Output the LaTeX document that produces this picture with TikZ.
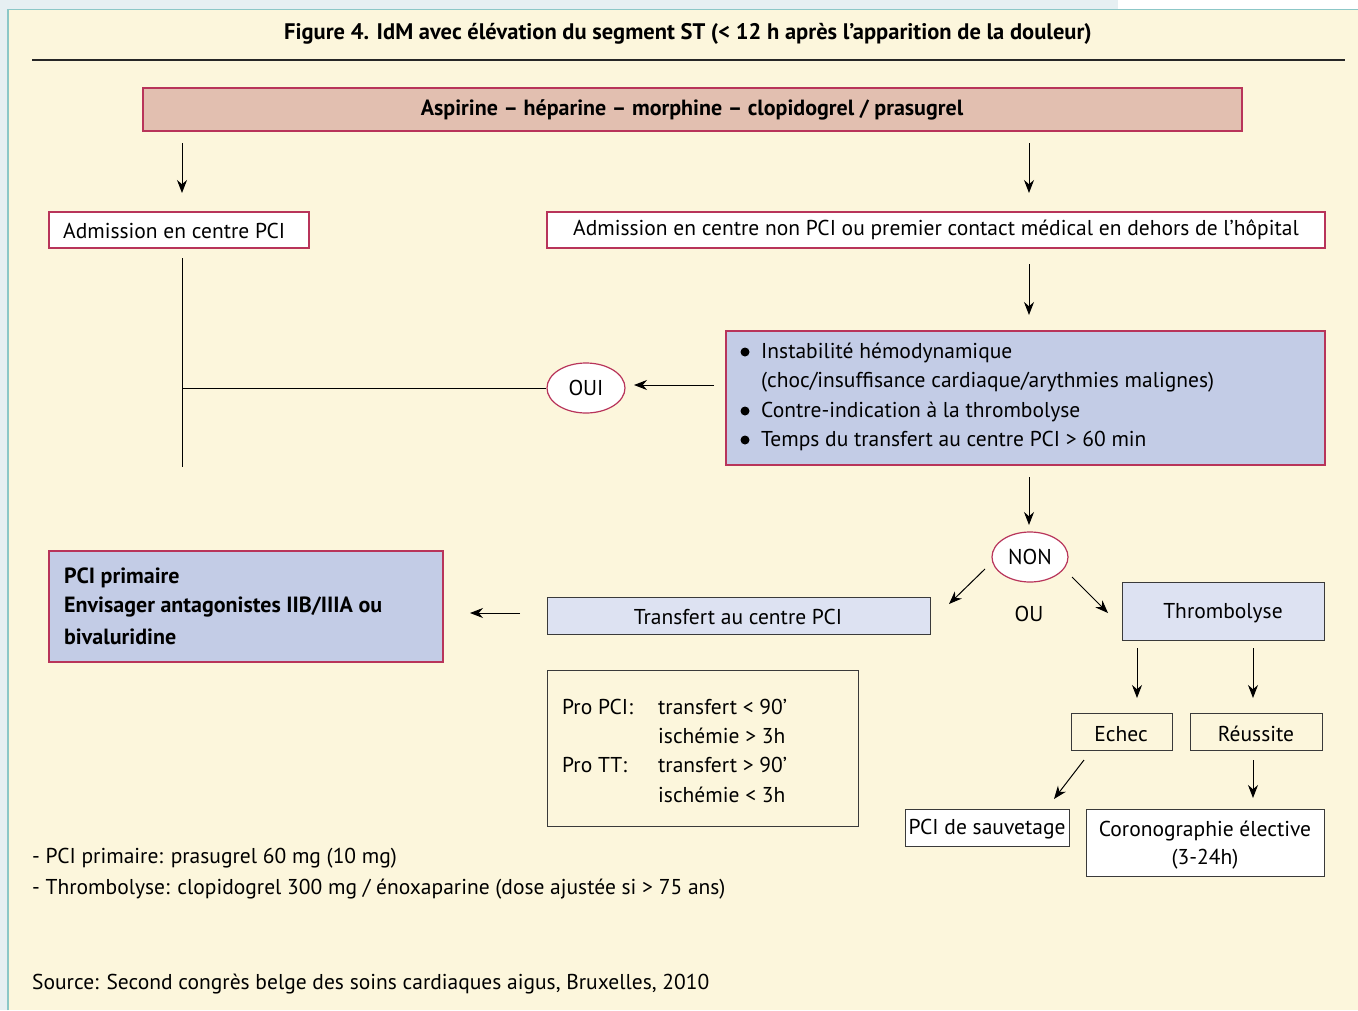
\documentclass[tikz,border=0pt]{standalone}
\usepackage{fontspec}
\setmainfont{PT Sans}
\usetikzlibrary{arrows.meta,shapes.geometric}
\definecolor{outerbg}{HTML}{E6EFF2}
\definecolor{panel}{HTML}{FCF6DC}
\definecolor{teal}{HTML}{8CC7C7}
\definecolor{redb}{HTML}{B8345A}
\definecolor{pinkfill}{HTML}{E2BFB0}
\definecolor{bluefill}{HTML}{C3CCE6}
\definecolor{lightblue}{HTML}{DDE2F2}
\definecolor{greyb}{HTML}{3A3A3A}
\tikzset{
  txt/.style={font=\fontsize{21.5}{26}\selectfont, inner sep=0pt},
  btxt/.style={font=\fontsize{22}{26}\selectfont\bfseries, inner sep=0pt},
  redbox/.style={draw=redb, line width=1.2pt},
  greybox/.style={draw=greyb, line width=1pt},
  arr/.style={-{Stealth[length=13pt,width=10pt]}, line width=1pt, black},
  plain/.style={line width=1pt, black},
  oval/.style={ellipse, draw=redb, line width=1.2pt, fill=white, minimum width=78pt, minimum height=50pt, inner sep=0pt, font=\fontsize{21.5}{26}\selectfont}
}
\begin{document}
\begin{tikzpicture}[x=1pt,y=-1pt]
\useasboundingbox (0,0) rectangle (1358,1010);
\fill[outerbg] (0,0) rectangle (1358,1010);
\fill[white] (1118,0) rectangle (1358,9);
\fill[panel] (8,9) rectangle (1358,1010);
\draw[teal, line width=1.5pt] (8,1010) -- (8,9.5) -- (1358,9.5);
% title
\node[btxt, font=\fontsize{22.5}{26}\selectfont\bfseries] (title) at (688,34) {Figure 4. IdM avec élévation du segment ST (< 12 h après l'apparition de la douleur)};
\coordinate (r1) at (32,60); \coordinate (r2) at (1345,60);
\draw[line width=1.2pt, black!85] (r1) -- (r2);
% top box
\draw[redbox, fill=pinkfill] (143,88) rectangle (1242,131);
\node[btxt] (top) at (692,110) {Aspirine – héparine – morphine – clopidogrel / prasugrel};
\coordinate (a1s) at (182,143); \coordinate (a1e) at (182,193);
\coordinate (a2s) at (1029,143); \coordinate (a2e) at (1029,193);
\draw[arr] (a1s) -- (a1e);
\draw[arr] (a2s) -- (a2e);
% admission boxes
\draw[redbox, fill=white] (49,212) rectangle (309,248);
\node[txt, anchor=west] (adm1) at (63,231) {Admission en centre PCI};
\draw[redbox, fill=white] (547,212) rectangle (1325,248);
\node[txt] (adm2) at (936,230) {Admission en centre non PCI ou premier contact médical en dehors de l'hôpital};
% left vertical line
\coordinate (v1) at (182,258); \coordinate (v2) at (182,467); \coordinate (vm) at (182,388);
\draw[plain] (v1) -- (v2);
\node[oval] (oui) at (586,388) {OUI};
\draw[plain] (vm) -- (oui.west);
\coordinate (o1) at (714,385); \coordinate (o2) at (634,385);
\draw[arr] (o1) -- (o2);
\coordinate (a3s) at (1029,264); \coordinate (a3e) at (1029,315);
\draw[arr] (a3s) -- (a3e);
% blue criteria box
\draw[redbox, fill=bluefill] (726,331) rectangle (1325,465);
\foreach \yy in {352,411,440} { \fill (745,\yy) circle (4.5pt); }
\node[txt, anchor=west] (c1) at (761,353) {Instabilité hémodynamique};
\node[txt, anchor=west] (c2) at (761,382) {(choc/insuffisance cardiaque/arythmies malignes)};
\node[txt, anchor=west] (c3) at (761,412) {Contre-indication à la thrombolyse};
\node[txt, anchor=west] (c4) at (761,441) {Temps du transfert au centre PCI > 60 min};
\coordinate (a4s) at (1029,477); \coordinate (a4e) at (1029,525);
\draw[arr] (a4s) -- (a4e);
\node[oval, minimum width=76pt] (non) at (1030,557) {NON};
\coordinate (n1) at (985,569); \coordinate (n2) at (949,604);
\coordinate (n3) at (1072,577); \coordinate (n4) at (1108,613);
\draw[arr] (n1) -- (n2);
\draw[arr] (n3) -- (n4);
\node[txt] (ou) at (1029,614) {OU};
% thrombolyse
\draw[greybox, fill=lightblue] (1122,582) rectangle (1324,640);
\node[txt] (thr) at (1223,613) {Thrombolyse};
% transfert
\draw[greybox, fill=lightblue] (547,597) rectangle (930,634);
\node[txt] (trf) at (738,617) {Transfert au centre PCI};
\coordinate (t1) at (520,613); \coordinate (t2) at (470,613);
\draw[arr] (t1) -- (t2);
% PCI primaire
\draw[redbox, fill=bluefill] (49,551) rectangle (443,662);
\node[btxt, anchor=west] (p1) at (64,578) {PCI primaire};
\node[btxt, anchor=west] (p2) at (64,607) {Envisager antagonistes IIB/IIIA ou};
\node[btxt, anchor=west] (p3) at (64,637) {bivaluridine};
% pro box
\draw[greybox] (547,670) rectangle (858,826);
\node[txt, anchor=west] (pp1) at (562,707) {Pro PCI:};
\node[txt, anchor=west] (pp2) at (658,707) {transfert < 90'};
\node[txt, anchor=west] (pp3) at (658,736) {ischémie > 3h};
\node[txt, anchor=west] (pp4) at (562,765) {Pro TT:};
\node[txt, anchor=west] (pp5) at (658,765) {transfert > 90'};
\node[txt, anchor=west] (pp6) at (658,795) {ischémie < 3h};
% thrombolyse outcomes
\coordinate (b1) at (1137,648); \coordinate (b2) at (1137,698);
\coordinate (b3) at (1253,648); \coordinate (b4) at (1253,698);
\draw[arr] (b1) -- (b2);
\draw[arr] (b3) -- (b4);
\draw[greybox] (1071,713) rectangle (1172,750);
\node[txt] (ech) at (1121,734) {Echec};
\draw[greybox] (1190,713) rectangle (1322,750);
\node[txt] (reu) at (1256,734) {Réussite};
\coordinate (e1) at (1084,760); \coordinate (e2) at (1054,799);
\coordinate (e3) at (1253,760); \coordinate (e4) at (1253,798);
\draw[arr] (e1) -- (e2);
\draw[arr] (e3) -- (e4);
\draw[greybox, fill=white] (905,809) rectangle (1069,846);
\node[txt] (sauv) at (987,829) {PCI de sauvetage};
\draw[greybox, fill=white] (1086,809) rectangle (1324,876);
\node[txt] (cor1) at (1205,831) {Coronographie élective};
\node[txt] (cor2) at (1205,859) {(3-24h)};
% footnotes
\node[txt, anchor=west] (f1) at (32,858) {- PCI primaire: prasugrel 60 mg (10 mg)};
\node[txt, anchor=west] (f2) at (32,889) {- Thrombolyse: clopidogrel 300 mg / énoxaparine (dose ajustée si > 75 ans)};
\node[txt, anchor=west] (src) at (32,984) {Source: Second congrès belge des soins cardiaques aigus, Bruxelles, 2010};
\end{tikzpicture}
\end{document}
